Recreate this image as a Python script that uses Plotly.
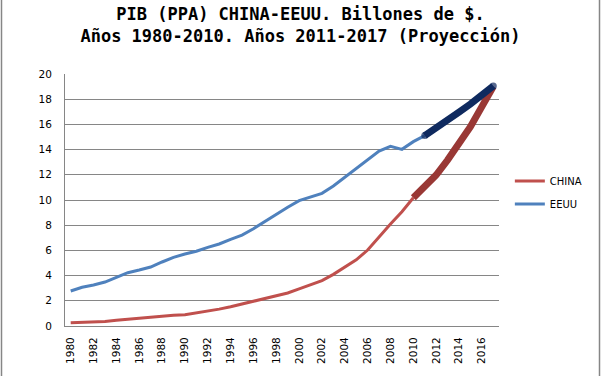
import plotly.graph_objects as go

years = list(range(1980, 2018))

eeuu_years = list(range(1980, 2012))
eeuu = [2.78, 3.07, 3.25, 3.49, 3.86, 4.23, 4.44, 4.68, 5.08, 5.45,
        5.71, 5.93, 6.24, 6.51, 6.88, 7.22, 7.72, 8.30, 8.86, 9.42,
        9.95, 10.21, 10.53, 11.11, 11.80, 12.46, 13.17, 13.89, 14.26, 14.02,
        14.63, 15.11]
eeuu_proj_years = list(range(2011, 2018))
eeuu_proj = [15.11, 15.69, 16.35, 16.98, 17.62, 18.33, 19.05]

china_years = list(range(1980, 2011))
china = [0.25, 0.27, 0.29, 0.36, 0.46, 0.55, 0.62, 0.70, 0.80, 0.86,
         0.90, 1.03, 1.20, 1.34, 1.53, 1.75, 1.98, 2.22, 2.41, 2.62,
         2.94, 3.25, 3.60, 4.10, 4.65, 5.25, 6.03, 7.09, 8.10, 9.07,
         10.18]
china_proj_years = list(range(2010, 2018))
china_proj = [10.18, 11.06, 11.98, 13.17, 14.44, 15.82, 17.41, 19.00]

y_ticks = list(range(0, 21, 2))
x_ticks = list(range(1980, 2017, 2))

fig = go.Figure()
fig.add_trace(go.Scatter(x=china_years, y=china, name="CHINA", mode="lines",
                         line=dict(color="#C0504D", width=3),
                         legendgroup="a"))
fig.add_trace(go.Scatter(x=eeuu_years, y=eeuu, name="EEUU", mode="lines",
                         line=dict(color="#4F81BD", width=3),
                         legendgroup="b"))
fig.add_trace(go.Scatter(x=china_proj_years, y=china_proj, mode="lines",
                         line=dict(color="#993835", width=7),
                         showlegend=False))
fig.add_trace(go.Scatter(x=eeuu_proj_years, y=eeuu_proj, mode="lines+markers",
                         line=dict(color="#0F2A5F", width=7),
                         marker=dict(size=[7, 0, 0, 0, 0, 0, 7], color="#0F2A5F",
                                     line=dict(width=0)),
                         showlegend=False))

fig.update_layout(
    width=601, height=376,
    margin=dict(l=65, r=102, t=74, b=50),
    paper_bgcolor="white", plot_bgcolor="white",
    title=dict(text="PIB (PPA) CHINA-EEUU. Billones de $.<br>Años 1980-2010. Años 2011-2017 (Proyección)",
               x=0.5, xanchor="center", y=0.946, yanchor="top",
               font=dict(family="DejaVu Sans Mono", size=17, color="black", weight="bold")),
    font=dict(family="DejaVu Sans", size=10, color="black"),
    legend=dict(x=1.025, xanchor="left", y=0.53, yanchor="middle",
                font=dict(family="DejaVu Sans", size=10, color="black"),
                traceorder="grouped", tracegroupgap=4, bgcolor="rgba(0,0,0,0)"),
    xaxis=dict(range=[1979.5, 2017.5], tickmode="array", tickvals=x_ticks,
               ticktext=[str(v) for v in x_ticks], tickangle=-90,
               showgrid=False, showline=True, linecolor="#868686", linewidth=1,
               ticks="", ticklabelstandoff=6, zeroline=False,
               tickfont=dict(family="DejaVu Sans", size=10.5, color="black")),
    yaxis=dict(range=[0, 20], tickmode="array", tickvals=y_ticks,
               showgrid=True, gridcolor="#868686", gridwidth=1,
               showline=True, linecolor="#868686", linewidth=1,
               ticks="", ticklabelstandoff=10, zeroline=False,
               tickfont=dict(family="DejaVu Sans", size=10.5, color="black")),
    shapes=[dict(type="rect", xref="paper", yref="paper",
                 x0=(1.5 - 65) / 434, x1=(599.5 - 65) / 434,
                 y0=-0.25, y1=1.35,
                 line=dict(color="#868686", width=1.5), fillcolor="rgba(0,0,0,0)",
                 layer="above")],
)

fig.write_html("out.html", config={"displayModeBar": False},
               post_script="document.body.style.margin='0';document.body.style.overflow='hidden';")
